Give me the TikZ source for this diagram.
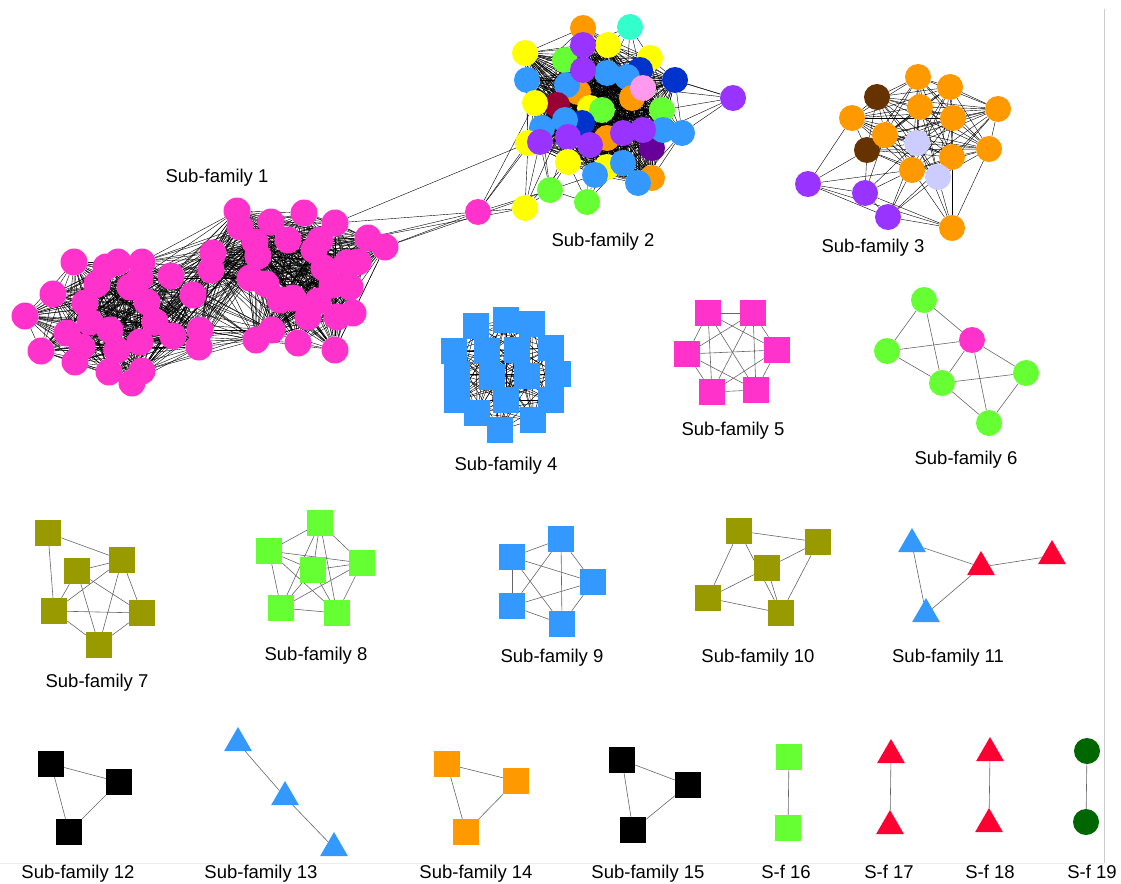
\documentclass[tikz,border=0pt]{standalone}
\usepackage{fontspec}
\setmainfont{Liberation Sans}
\usetikzlibrary{shapes.geometric,backgrounds}

\definecolor{cpink}{HTML}{FF33CC}
\definecolor{cblue}{HTML}{3399FF}
\definecolor{cgreen}{HTML}{66FF33}
\definecolor{colive}{HTML}{999900}
\definecolor{corange}{HTML}{FF9900}
\definecolor{cyellow}{HTML}{FFFF00}
\definecolor{cpurple}{HTML}{9933FF}
\definecolor{cnavy}{HTML}{0033CC}
\definecolor{cteal}{HTML}{33FFCC}
\definecolor{clpink}{HTML}{FF99EE}
\definecolor{cwine}{HTML}{990033}
\definecolor{cplum}{HTML}{660099}
\definecolor{cbrown}{HTML}{663300}
\definecolor{clav}{HTML}{CCCCFF}
\definecolor{cred}{HTML}{FF0033}
\definecolor{cdgreen}{HTML}{006600}

\tikzset{
  dot/.style={circle, fill=#1, inner sep=0pt, minimum size=26pt},
  sq/.style={rectangle, fill=#1, inner sep=0pt, minimum size=26pt},
  tri/.style={regular polygon, regular polygon sides=3, fill=#1, inner sep=0pt, minimum size=32pt},
  link/.style={draw=black!60, line width=0.6pt},
  mesh/.style={draw=black, line width=0.4pt},
  famlabel/.style={anchor=base, inner sep=0pt, font=\fontsize{18.5}{22}\selectfont},
}

\begin{document}
\begin{tikzpicture}[x=1pt, y=-1pt]
\useasboundingbox (0,0) rectangle (1121,883);

% sub-family 1, left lobe
\node[dot=cpink, minimum size=27pt] (a1) at (74,262) {};
\node[dot=cpink, minimum size=27pt] (a2) at (53,294) {};
\node[dot=cpink, minimum size=27pt] (a3) at (25,316) {};
\node[dot=cpink, minimum size=27pt] (a4) at (41,351) {};
\node[dot=cpink, minimum size=27pt] (a5) at (75,362) {};
\node[dot=cpink, minimum size=27pt] (a6) at (109,372) {};
\node[dot=cpink, minimum size=27pt] (a7) at (132,383) {};
\node[dot=cpink, minimum size=27pt] (a8) at (142,371) {};
\node[dot=cpink, minimum size=27pt] (a9) at (106,267) {};
\node[dot=cpink, minimum size=27pt] (a10) at (118,262) {};
\node[dot=cpink, minimum size=27pt] (a11) at (142,262) {};
\node[dot=cpink, minimum size=27pt] (a12) at (171,276) {};
\node[dot=cpink, minimum size=27pt] (a13) at (193,295) {};
\node[dot=cpink, minimum size=27pt] (a14) at (173,336) {};
\node[dot=cpink, minimum size=27pt] (a15) at (200,330) {};
\node[dot=cpink, minimum size=27pt] (a16) at (199,347) {};
\node[dot=cpink, minimum size=27pt] (a17) at (85,303) {};
\node[dot=cpink, minimum size=27pt] (a18) at (97,284) {};
\node[dot=cpink, minimum size=27pt] (a19) at (67,333) {};
\node[dot=cpink, minimum size=27pt] (a20) at (82,347) {};
\node[dot=cpink, minimum size=27pt] (a21) at (110,330) {};
\node[dot=cpink, minimum size=27pt] (a22) at (117,350) {};
\node[dot=cpink, minimum size=27pt] (a23) at (140,342) {};
\node[dot=cpink, minimum size=27pt] (a24) at (147,302) {};
\node[dot=cpink, minimum size=27pt] (a25) at (140,278) {};
\node[dot=cpink, minimum size=27pt] (a26) at (130,287) {};
\node[dot=cpink, minimum size=27pt] (a27) at (155,322) {};
\node[dot=cpink, minimum size=27pt] (a28) at (90,322) {};
% sub-family 1, right lobe
\node[dot=cpink, minimum size=27pt] (b1) at (237,211) {};
\node[dot=cpink, minimum size=27pt] (b2) at (240,227) {};
\node[dot=cpink, minimum size=27pt] (b3) at (271,222) {};
\node[dot=cpink, minimum size=27pt] (b4) at (304,213) {};
\node[dot=cpink, minimum size=27pt] (b5) at (335,223) {};
\node[dot=cpink, minimum size=27pt] (b6) at (368,238) {};
\node[dot=cpink, minimum size=27pt] (b7) at (385,247) {};
\node[dot=cpink, minimum size=27pt] (b8) at (358,262) {};
\node[dot=cpink, minimum size=27pt] (b9) at (350,287) {};
\node[dot=cpink, minimum size=27pt] (b10) at (353,313) {};
\node[dot=cpink, minimum size=27pt] (b11) at (337,317) {};
\node[dot=cpink, minimum size=27pt] (b12) at (335,350) {};
\node[dot=cpink, minimum size=27pt] (b13) at (298,343) {};
\node[dot=cpink, minimum size=27pt] (b14) at (272,330) {};
\node[dot=cpink, minimum size=27pt] (b15) at (256,340) {};
\node[dot=cpink, minimum size=27pt] (b16) at (213,253) {};
\node[dot=cpink, minimum size=27pt] (b17) at (211,270) {};
\node[dot=cpink, minimum size=27pt] (b18) at (308,317) {};
\node[dot=cpink, minimum size=27pt] (b19) at (293,298) {};
\node[dot=cpink, minimum size=27pt] (b20) at (258,256) {};
\node[dot=cpink, minimum size=27pt] (b21) at (266,284) {};
\node[dot=cpink, minimum size=27pt] (b22) at (314,250) {};
\node[dot=cpink, minimum size=27pt] (b23) at (324,268) {};
\node[dot=cpink, minimum size=27pt] (b24) at (332,285) {};
\node[dot=cpink, minimum size=27pt] (b25) at (280,300) {};
\node[dot=cpink, minimum size=27pt] (b26) at (318,301) {};
\node[dot=cpink, minimum size=27pt] (b27) at (250,278) {};
\node[dot=cpink, minimum size=27pt] (b28) at (347,263) {};
\node[dot=cpink, minimum size=27pt] (b29) at (288,240) {};
\node[dot=cpink, minimum size=27pt] (b30) at (320,240) {};
\node[dot=cpink, minimum size=27pt] (b31) at (255,242) {};

% sub-family 2
\node[dot=corange] (m1) at (583,28) {};
\node[dot=cyellow] (m2) at (525,53) {};
\node[dot=cyellow] (m3) at (608,45) {};
\node[dot=cgreen] (m4) at (565,60) {};
\node[dot=cyellow] (m5) at (650,58) {};
\node[dot=cpurple] (m6) at (583,45) {};
\node[dot=cblue] (m7) at (527,80) {};
\node[dot=cnavy] (m8) at (640,70) {};
\node[dot=cnavy] (m9) at (675,80) {};
\node[dot=cblue] (m10) at (607,73) {};
\node[dot=cblue] (m11) at (627,77) {};
\node[dot=corange] (m12) at (578,92) {};
\node[dot=cblue] (m13) at (567,85) {};
\node[dot=cpurple] (m14) at (583,70) {};
\node[dot=corange] (m15) at (632,98) {};
\node[dot=clpink] (m16) at (643,88) {};
\node[dot=cwine] (m17) at (557,105) {};
\node[dot=cyellow] (m18) at (535,103) {};
\node[dot=cyellow] (m19) at (590,108) {};
\node[dot=cgreen] (m20) at (602,110) {};
\node[dot=cgreen] (m21) at (662,110) {};
\node[dot=cnavy] (m22) at (582,123) {};
\node[dot=cblue] (m23) at (565,120) {};
\node[dot=cblue] (m24) at (542,128) {};
\node[dot=cyellow] (m25) at (528,143) {};
\node[dot=cpurple] (m26) at (540,142) {};
\node[dot=corange] (m27) at (607,138) {};
\node[dot=cpurple] (m28) at (568,137) {};
\node[dot=cpurple] (m29) at (590,145) {};
\node[dot=cplum] (m30) at (652,148) {};
\node[dot=cblue] (m31) at (663,130) {};
\node[dot=cpurple] (m32) at (623,133) {};
\node[dot=cpurple] (m33) at (643,130) {};
\node[dot=cblue] (m34) at (682,133) {};
\node[dot=cyellow] (m35) at (568,162) {};
\node[dot=cyellow] (m36) at (607,167) {};
\node[dot=corange] (m37) at (652,178) {};
\node[dot=cblue] (m38) at (623,163) {};
\node[dot=cblue] (m39) at (595,175) {};
\node[dot=cblue] (m40) at (638,183) {};
\node[dot=cteal] (m41) at (630,27) {};
\node[dot=cgreen] (m42) at (550,190) {};
\node[dot=cgreen] (m43) at (587,202) {};
\node[dot=cyellow] (m44) at (525,208) {};
\node[dot=cpink] (m45) at (478,212) {};
\node[dot=cpurple] (m46) at (733,98) {};

% sub-family 3
\node[dot=corange] (t1) at (918,77) {};
\node[dot=corange] (t2) at (950,87) {};
\node[dot=cbrown] (t3) at (877,97) {};
\node[dot=corange] (t4) at (920,107) {};
\node[dot=corange] (t5) at (998,109) {};
\node[dot=corange] (t6) at (852,118) {};
\node[dot=corange] (t7) at (953,118) {};
\node[dot=cbrown] (t10) at (867,150) {};
\node[dot=corange] (t8) at (885,135) {};
\node[dot=clav] (t9) at (917,143) {};
\node[dot=corange] (t11) at (989,149) {};
\node[dot=corange] (t12) at (952,157) {};
\node[dot=corange] (t13) at (912,170) {};
\node[dot=clav] (t14) at (938,177) {};
\node[dot=cpurple] (t15) at (808,184) {};
\node[dot=cpurple] (t16) at (865,193) {};
\node[dot=cpurple] (t17) at (888,217) {};
\node[dot=corange] (t18) at (952,228) {};

% sub-family 4
\node[sq=cblue] (q1) at (476,326) {};
\node[sq=cblue] (q2) at (506,320) {};
\node[sq=cblue] (q3) at (532,324) {};
\node[sq=cblue] (q4) at (454,351) {};
\node[sq=cblue] (q5) at (487,351) {};
\node[sq=cblue] (q6) at (517,350) {};
\node[sq=cblue] (q7) at (551,348) {};
\node[sq=cblue] (q8) at (457,374) {};
\node[sq=cblue] (q9) at (492,377) {};
\node[sq=cblue] (q10) at (527,376) {};
\node[sq=cblue] (q11) at (558,374) {};
\node[sq=cblue] (q12) at (457,400) {};
\node[sq=cblue] (q13) at (506,400) {};
\node[sq=cblue] (q14) at (551,400) {};
\node[sq=cblue] (q15) at (477,413) {};
\node[sq=cblue] (q16) at (533,420) {};
\node[sq=cblue] (q17) at (500,430) {};

% sub-family 5
\node[sq=cpink] (p1) at (708,313) {};
\node[sq=cpink] (p2) at (753,313) {};
\node[sq=cpink] (p3) at (687,354) {};
\node[sq=cpink] (p4) at (777,350) {};
\node[sq=cpink] (p5) at (712,392) {};
\node[sq=cpink] (p6) at (756,390) {};

% sub-family 6
\node[dot=cgreen] (g1) at (924,300) {};
\node[dot=cgreen] (g2) at (887,351) {};
\node[dot=cpink] (g3) at (972,340) {};
\node[dot=cgreen] (g4) at (942,383) {};
\node[dot=cgreen] (g5) at (1026,373) {};
\node[dot=cgreen] (g6) at (989,423) {};

% sub-family 7
\node[sq=colive] (k1) at (48,533) {};
\node[sq=colive] (k2) at (77,571) {};
\node[sq=colive] (k3) at (122,560) {};
\node[sq=colive] (k4) at (54,611) {};
\node[sq=colive] (k5) at (142,613) {};
\node[sq=colive] (k6) at (99,645) {};

% sub-family 8
\node[sq=cgreen] (h1) at (320,523) {};
\node[sq=cgreen] (h2) at (269,551) {};
\node[sq=cgreen] (h3) at (313,570) {};
\node[sq=cgreen] (h4) at (362,563) {};
\node[sq=cgreen] (h5) at (281,608) {};
\node[sq=cgreen] (h6) at (337,613) {};

% sub-family 9
\node[sq=cblue] (n1) at (561,539) {};
\node[sq=cblue] (n2) at (512,557) {};
\node[sq=cblue] (n3) at (593,582) {};
\node[sq=cblue] (n4) at (512,606) {};
\node[sq=cblue] (n5) at (562,624) {};

% sub-family 10
\node[sq=colive] (o1) at (739,531) {};
\node[sq=colive] (o2) at (818,542) {};
\node[sq=colive] (o3) at (767,568) {};
\node[sq=colive] (o4) at (708,598) {};
\node[sq=colive] (o5) at (781,613) {};

% sub-family 11
\node[tri=cblue] (e1) at (912,544) {};
\node[tri=cred] (e2) at (981,567) {};
\node[tri=cred] (e3) at (1052,556) {};
\node[tri=cblue] (e4) at (926,614) {};

% sub-families 12 to 19
\node[sq=black] (x1) at (51,764) {};
\node[sq=black] (x2) at (119,782) {};
\node[sq=black] (x3) at (69,832) {};
\node[tri=cblue] (y1) at (238,743) {};
\node[tri=cblue] (y2) at (285,797) {};
\node[tri=cblue] (y3) at (334,848) {};
\node[sq=corange] (z1) at (447,764) {};
\node[sq=corange] (z2) at (516,781) {};
\node[sq=corange] (z3) at (466,832) {};
\node[sq=black] (w1) at (622,760) {};
\node[sq=black] (w2) at (688,785) {};
\node[sq=black] (w3) at (633,830) {};
\node[sq=cgreen] (v1) at (789,757) {};
\node[sq=cgreen] (v2) at (788,828) {};
\node[tri=cred] (r1) at (891,755) {};
\node[tri=cred] (r2) at (890,826) {};
\node[tri=cred] (s1) at (990,753) {};
\node[tri=cred] (s2) at (989,824) {};
\node[dot=cdgreen] (u1) at (1087,751) {};
\node[dot=cdgreen] (u2) at (1086,822) {};

% labels
\node[famlabel] (lab1) at (217,182) {Sub-family 1};
\node[famlabel] (lab2) at (603,246) {Sub-family 2};
\node[famlabel] (lab3) at (873,252) {Sub-family 3};
\node[famlabel] (lab4) at (506,470) {Sub-family 4};
\node[famlabel] (lab5) at (733,435) {Sub-family 5};
\node[famlabel] (lab6) at (966,464) {Sub-family 6};
\node[famlabel] (lab7) at (97,687) {Sub-family 7};
\node[famlabel] (lab8) at (316,660) {Sub-family 8};
\node[famlabel] (lab9) at (552,662) {Sub-family 9};
\node[famlabel] (lab10) at (758,662) {Sub-family 10};
\node[famlabel] (lab11) at (948,662) {Sub-family 11};
\node[famlabel] (lab12) at (78,878) {Sub-family 12};
\node[famlabel] (lab13) at (261,878) {Sub-family 13};
\node[famlabel] (lab14) at (476,878) {Sub-family 14};
\node[famlabel] (lab15) at (648,878) {Sub-family 15};
\node[famlabel] (lab16) at (786,878) {S-f 16};
\node[famlabel] (lab17) at (889,878) {S-f 17};
\node[famlabel] (lab18) at (990,878) {S-f 18};
\node[famlabel] (lab19) at (1092,878) {S-f 19};

% frame
\draw[black!20, line width=1pt] (1104,9) -- (1104,863);
\draw[black!7, line width=1pt] (0,863) -- (1104,863);

\begin{scope}[on background layer]
% sub-family 1
\foreach \i [evaluate=\i as \k using int(\i+1)] in {1,...,27}
  \foreach \j in {\k,...,28}
    \path[mesh] (a\i) edge (a\j);
\foreach \i [evaluate=\i as \k using int(\i+1)] in {1,...,30}
  \foreach \j in {\k,...,31}
    \path[mesh] (b\i) edge (b\j);
\foreach \i in {8,11,12,13,14,15,16,23,24,25,27}
  \foreach \j in {1,2,3,14,15,16,17,20,27,31}
    \path[mesh] (a\i) edge (b\j);
\path[mesh] (b5) edge (m45);
\path[mesh] (b6) edge (m45);
\path[mesh] (b7) edge (m45);
\path[mesh] (b6) edge (m44);
\path[mesh] (b7) edge (m42);
\path[mesh] (b5) edge (m25);
% sub-family 2
\foreach \i [evaluate=\i as \k using int(\i+1)] in {1,...,39}
  \foreach \j in {\k,...,40}
    \path[mesh] (m\i) edge (m\j);
\foreach \j in {3,5,6,8,10,11}
  \path[mesh] (m41) edge (m\j);
\foreach \j in {24,26,28,35,39,43}
  \path[mesh] (m42) edge (m\j);
\foreach \j in {29,35,36,38,39}
  \path[mesh] (m43) edge (m\j);
\foreach \j in {23,25,26,35,42}
  \path[mesh] (m44) edge (m\j);
\foreach \j in {18,24,25,42,44}
  \path[mesh] (m45) edge (m\j);
\foreach \j in {8,9,16,21,31,34}
  \path[mesh] (m46) edge (m\j);
% sub-family 3
\foreach \i [evaluate=\i as \k using int(\i+1)] in {1,...,13}
  \foreach \j in {\k,...,14}
    \path[mesh] (t\i) edge (t\j);
\foreach \j in {6,10,13,16,17,18}
  \path[mesh] (t15) edge (t\j);
\foreach \j in {8,9,10,13,17,18}
  \path[mesh] (t16) edge (t\j);
\foreach \j in {9,12,13,14,18}
  \path[mesh] (t17) edge (t\j);
\foreach \j in {9,11,12,13,14}
  \path[mesh] (t18) edge (t\j);
% sub-family 4
\foreach \i [evaluate=\i as \k using int(\i+1)] in {1,...,16}
  \foreach \j in {\k,...,17}
    \path[mesh] (q\i) edge (q\j);
% sub-family 5
\foreach \i [evaluate=\i as \k using int(\i+1)] in {1,...,5}
  \foreach \j in {\k,...,6}
    \path[link] (p\i) edge (p\j);
% sub-family 6
\path[link] (g1) edge (g2);
\path[link] (g1) edge (g3);
\path[link] (g1) edge (g4);
\path[link] (g2) edge (g3);
\path[link] (g2) edge (g4);
\path[link] (g3) edge (g4);
\path[link] (g3) edge (g5);
\path[link] (g3) edge (g6);
\path[link] (g4) edge (g5);
\path[link] (g4) edge (g6);
\path[link] (g5) edge (g6);
% sub-family 7
\path[link] (k1) edge (k3);
\path[link] (k1) edge (k4);
\path[link] (k2) edge (k3);
\path[link] (k2) edge (k4);
\path[link] (k2) edge (k5);
\path[link] (k2) edge (k6);
\path[link] (k3) edge (k4);
\path[link] (k3) edge (k5);
\path[link] (k3) edge (k6);
\path[link] (k4) edge (k5);
\path[link] (k4) edge (k6);
\path[link] (k5) edge (k6);
% sub-family 8
\foreach \i [evaluate=\i as \k using int(\i+1)] in {1,...,5}
  \foreach \j in {\k,...,6}
    \path[link] (h\i) edge (h\j);
% sub-family 9
\foreach \i [evaluate=\i as \k using int(\i+1)] in {1,...,4}
  \foreach \j in {\k,...,5}
    \path[link] (n\i) edge (n\j);
% sub-family 10
\path[link] (o1) edge (o2);
\path[link] (o1) edge (o4);
\path[link] (o1) edge (o5);
\path[link] (o2) edge (o3);
\path[link] (o2) edge (o5);
\path[link] (o3) edge (o4);
\path[link] (o3) edge (o5);
\path[link] (o4) edge (o5);
% sub-family 11
\path[link] (e1) edge (e2);
\path[link] (e2) edge (e3);
\path[link] (e1) edge (e4);
\path[link] (e4) edge (e2);
% sub-families 12 to 19
\path[link] (x1) edge (x2);
\path[link] (x1) edge (x3);
\path[link] (x2) edge (x3);
\path[link] (y1) edge (y2);
\path[link] (y2) edge (y3);
\path[link] (z1) edge (z2);
\path[link] (z1) edge (z3);
\path[link] (z2) edge (z3);
\path[link] (w1) edge (w2);
\path[link] (w1) edge (w3);
\path[link] (w2) edge (w3);
\path[link] (v1) edge (v2);
\path[link] (r1) edge (r2);
\path[link] (s1) edge (s2);
\path[link] (u1) edge (u2);
\end{scope}
\end{tikzpicture}
\end{document}
